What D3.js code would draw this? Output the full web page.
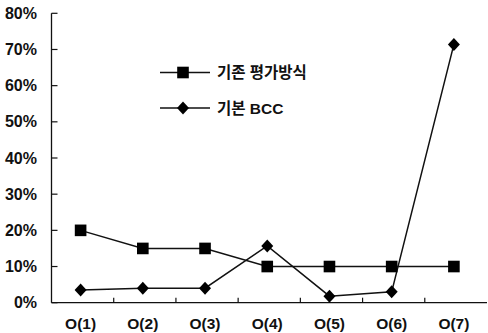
<!DOCTYPE html>
<html>
<head>
<meta charset="utf-8">
<script src="https://cdn.jsdelivr.net/npm/d3@7"></script>
<style>
  html, body { margin: 0; padding: 0; background: #fff; }
  svg { display: block; }
  .ylbl { font-family: "Liberation Sans", Arial, sans-serif; font-weight: bold; font-size: 16px; fill: #111; }
  .xlbl { font-family: "Liberation Sans", Arial, sans-serif; font-weight: bold; font-size: 15.5px; fill: #111; }
  .kr { font-family: "Liberation Sans", "Noto Sans CJK KR", sans-serif; font-weight: bold; font-size: 15.5px; fill: #111; }
</style>
</head>
<body>
<svg id="chart" width="488" height="333"></svg>
<script>
// Categories and series values (percent)
const categories = ["O(1)", "O(2)", "O(3)", "O(4)", "O(5)", "O(6)", "O(7)"];
const existing = [20, 15, 15, 10, 10, 10, 10];      // 기존 평가방식
const bcc = [3.5, 4, 4, 15.7, 1.8, 3, 71.4];        // 기본 BCC
const yTicks = [0, 10, 20, 30, 40, 50, 60, 70, 80];
const seriesNames = ["기존 평가방식", "기본 BCC"];

const svg = d3.select("#chart");
const plotLeft = 51.5, plotRight = 487, plotTop = 13.3, plotBottom = 302.7;

const x = d3.scaleBand().domain(categories).range([plotLeft, plotRight]);
const y = d3.scaleLinear().domain([0, 80]).range([plotBottom, plotTop]);
const cx = d => x(d) + x.bandwidth() / 2 - 2;

// Y axis: line with inward ticks
svg.append("line").attr("x1", plotLeft).attr("x2", plotLeft).attr("y1", plotTop).attr("y2", plotBottom)
  .attr("stroke", "#111").attr("stroke-width", 1.3);
yTicks.forEach(t => {
  svg.append("line").attr("x1", plotLeft).attr("x2", plotLeft + 6).attr("y1", y(t)).attr("y2", y(t))
    .attr("stroke", "#111").attr("stroke-width", 1.2);
  svg.append("text").attr("class", "ylbl").attr("x", 37).attr("y", y(t) + 5.5)
    .attr("text-anchor", "end").text(t + "%");
});

// X axis: line with upward ticks between categories
svg.append("line").attr("x1", plotLeft).attr("x2", plotRight).attr("y1", plotBottom).attr("y2", plotBottom)
  .attr("stroke", "#111").attr("stroke-width", 1.3);
categories.forEach((c, i) => {
  if (i > 0) {
    const tx = x(c);
    svg.append("line").attr("x1", tx).attr("x2", tx).attr("y1", plotBottom).attr("y2", plotBottom - 5)
      .attr("stroke", "#111").attr("stroke-width", 1.2);
  }
  svg.append("text").attr("class", "xlbl").attr("x", cx(c)).attr("y", 329)
    .attr("text-anchor", "middle").text(c);
});

const line = d3.line().x((d, i) => cx(categories[i])).y(d => y(d));

// Series lines
svg.append("path").datum(existing).attr("d", line).attr("fill", "none")
  .attr("stroke", "#111").attr("stroke-width", 1.5);
svg.append("path").datum(bcc).attr("d", line).attr("fill", "none")
  .attr("stroke", "#111").attr("stroke-width", 1.5);

// Marker shapes: filled square and a compact diamond
const sqPath = d3.symbol().type(d3.symbolSquare).size(135)();
const dmPath = "M0,-6.5L6,0L0,6.5L-6,0Z";

existing.forEach((v, i) => {
  svg.append("path").attr("d", sqPath).attr("transform", `translate(${cx(categories[i])},${y(v)})`).attr("fill", "#000");
});
bcc.forEach((v, i) => {
  svg.append("path").attr("d", dmPath).attr("transform", `translate(${cx(categories[i])},${y(v)})`).attr("fill", "#000");
});

// Legend
const legend = [
  { name: seriesNames[0], sym: sqPath, y: 72.5 },
  { name: seriesNames[1], sym: dmPath, y: 108 }
];
legend.forEach(l => {
  svg.append("line").attr("x1", 160).attr("x2", 210).attr("y1", l.y).attr("y2", l.y)
    .attr("stroke", "#111").attr("stroke-width", 1.5);
  svg.append("path").attr("d", l.sym).attr("transform", `translate(183,${l.y})`).attr("fill", "#000");
  svg.append("text").attr("class", "kr").attr("x", 217).attr("y", l.y + 5.5).text(l.name);
});
</script>
</body>
</html>
